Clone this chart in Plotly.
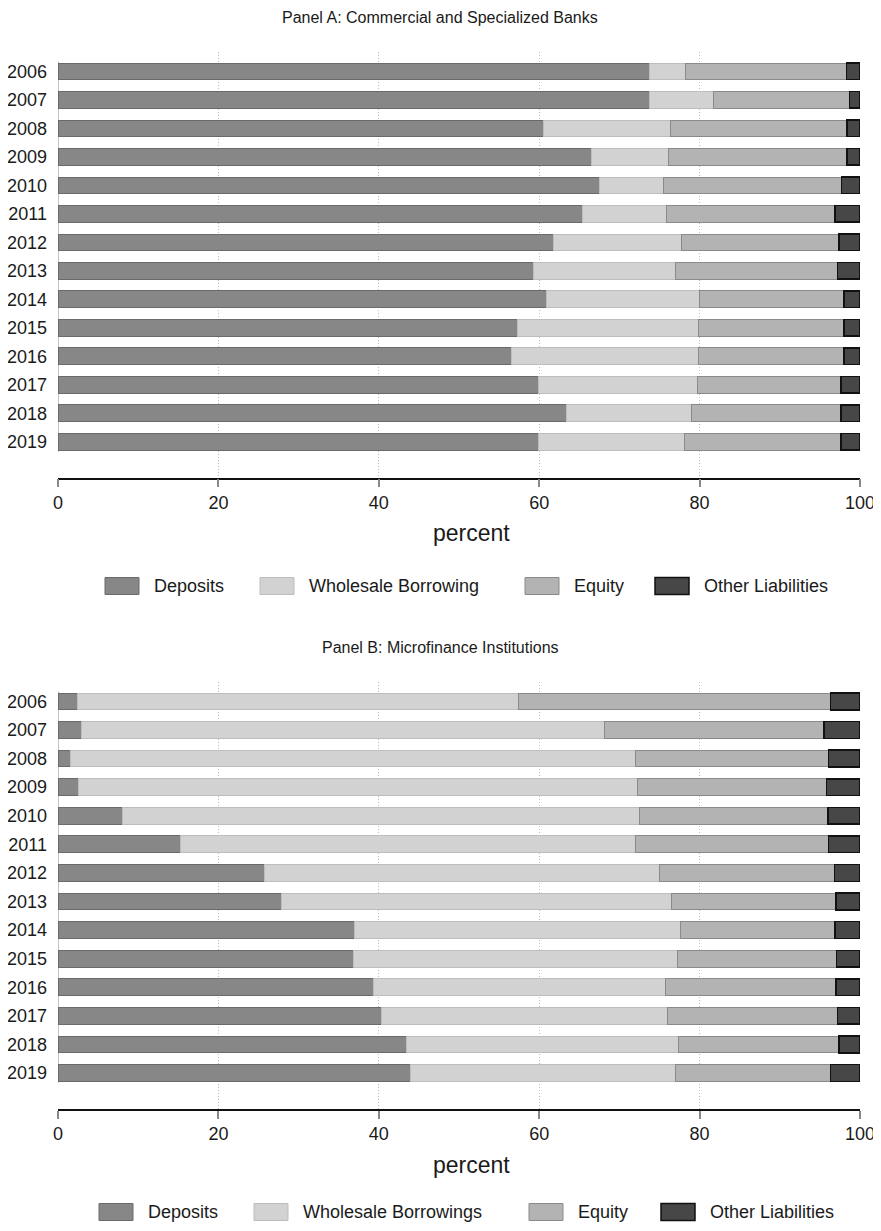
import plotly.graph_objects as go

# page body keeps its default 8px margin, so the figure is laid out inside it
PAGE_W, PAGE_H = 881, 1231
OFF = 8
W, H = PAGE_W - OFF, PAGE_H - 2 * OFF

years = ["2006", "2007", "2008", "2009", "2010", "2011", "2012",
         "2013", "2014", "2015", "2016", "2017", "2018", "2019"]

# Panel A: commercial and specialized banks (percent of liabilities)
bank_deposits = [73.7, 73.8, 60.5, 66.5, 67.5, 65.4, 61.8, 59.3, 60.9, 57.3, 56.5, 59.9, 63.4, 59.9]
bank_wholesale = [4.5, 7.9, 15.9, 9.6, 8.0, 10.5, 16.0, 17.7, 19.1, 22.6, 23.3, 19.8, 15.6, 18.2]
bank_equity = [20.1, 17.0, 22.0, 22.3, 22.2, 21.0, 19.6, 20.2, 18.0, 18.1, 18.2, 17.9, 18.6, 19.5]
bank_other = [1.7, 1.3, 1.6, 1.6, 2.3, 3.1, 2.6, 2.8, 2.0, 2.0, 2.0, 2.4, 2.4, 2.4]

# Panel B: microfinance institutions
mfi_deposits = [2.4, 2.9, 1.5, 2.6, 8.0, 15.3, 25.8, 27.9, 37.0, 36.9, 39.3, 40.3, 43.5, 44.0]
mfi_wholesale = [55.0, 65.3, 70.5, 69.7, 64.5, 56.7, 49.2, 48.6, 40.6, 40.4, 36.5, 35.7, 33.9, 33.0]
mfi_equity = [38.9, 27.3, 24.1, 23.5, 23.5, 24.1, 21.8, 20.5, 19.3, 19.8, 21.2, 21.2, 20.0, 19.3]
mfi_other = [3.7, 4.5, 3.9, 4.2, 4.0, 3.9, 3.2, 3.0, 3.1, 2.9, 3.0, 2.8, 2.6, 3.7]

legend_a = ["Deposits", "Wholesale Borrowing", "Equity", "Other Liabilities"]
legend_b = ["Deposits", "Wholesale Borrowings", "Equity", "Other Liabilities"]

x_ticks = [0, 20, 40, 60, 80, 100]

fills = ["#878787", "#d2d2d2", "#b3b3b3", "#474747"]
edges = ["#6a6a6a", "#bdbdbd", "#8a8a8a", "#111111"]
edge_w = [1, 1, 1, 1.5]

FONT = "Liberation Sans, Arial, Helvetica, sans-serif"
INK = "#1a1a1a"


def px(x):
    # page pixel -> paper fraction
    return (x - OFF) / W


def py(y):
    return 1 - (y - OFF) / H


fig = go.Figure()

panels = [
    ("x", "y", [bank_deposits, bank_wholesale, bank_equity, bank_other], legend_a),
    ("x2", "y2", [mfi_deposits, mfi_wholesale, mfi_equity, mfi_other], legend_b),
]
for xa, ya, series, names in panels:
    for i, vals in enumerate(series):
        fig.add_trace(go.Bar(
            x=vals, y=years, orientation="h",
            xaxis=xa, yaxis=ya,
            name=names[i],
            width=0.585,
            marker=dict(color=fills[i], line=dict(color=edges[i], width=edge_w[i])),
            showlegend=False,
        ))

x_common = dict(
    range=[0, 100], tickvals=x_ticks,
    showgrid=True, gridcolor="#bdbdbd", griddash="1px,2px", gridwidth=1,
    showline=True, linecolor="#111111", linewidth=1.5,
    ticks="outside", ticklen=8, tickcolor="#888888", tickwidth=1.5,
    tickfont=dict(family=FONT, size=18, color=INK),
    ticklabeloverflow="allow",
    zeroline=False, fixedrange=True, automargin=False,
)
y_common = dict(
    type="category", categoryorder="array", categoryarray=years,
    range=[14.26, -0.68],
    showgrid=False, showline=False, zeroline=False,
    ticks="", ticklabelstandoff=10,
    tickfont=dict(family=FONT, size=18, color=INK),
    fixedrange=True, automargin=False,
)

xd = [px(58), px(860)]
fig.update_layout(
    width=W, height=H, autosize=False,
    margin=dict(l=0, r=0, t=0, b=0, pad=0),
    paper_bgcolor="white", plot_bgcolor="white",
    barmode="stack",
    xaxis=dict(domain=xd, anchor="y", **x_common),
    yaxis=dict(domain=[py(477.7), py(52)], anchor="x", **y_common),
    xaxis2=dict(domain=xd, anchor="y2", **x_common),
    yaxis2=dict(domain=[py(1109), py(682)], anchor="x2", **y_common),
)

shapes = []
annotations = []

# thin category-axis line alongside the bars
for xr, yr in [("x", "y"), ("x2", "y2")]:
    shapes.append(dict(type="line", xref=xr, yref=yr, x0=0, x1=0, y0=-0.35, y1=13.35,
                       line=dict(color="#b0b0b0", width=1.5), layer="below"))

titles = [("Panel A: Commercial and Specialized Banks", 17),
          ("Panel B: Microfinance Institutions", 647)]
for text, yc in titles:
    annotations.append(dict(text=text, x=px(440), y=py(yc), xref="paper", yref="paper",
                            xanchor="center", yanchor="middle", showarrow=False,
                            font=dict(family=FONT, size=16, color=INK)))

for yc in [533, 1165]:
    annotations.append(dict(text="percent", x=px(471), y=py(yc), xref="paper", yref="paper",
                            xanchor="center", yanchor="middle", showarrow=False,
                            font=dict(family=FONT, size=23, color=INK)))

# hand-built legends (wide rectangular keys as in the original)
legend_rows = [
    (legend_a, 586, [105, 260, 525, 655]),
    (legend_b, 1212, [99, 254, 529, 661]),
]
for names, yc, lefts in legend_rows:
    for i, name in enumerate(names):
        x0 = lefts[i]
        shapes.append(dict(type="rect", xref="paper", yref="paper",
                           x0=px(x0), x1=px(x0 + 34), y0=py(yc + 8.5), y1=py(yc - 8.5),
                           fillcolor=fills[i], line=dict(color=edges[i], width=edge_w[i])))
        annotations.append(dict(text=name, x=px(x0 + 47), y=py(yc), xref="paper", yref="paper",
                                xanchor="left", yanchor="middle", showarrow=False,
                                font=dict(family=FONT, size=18, color=INK)))

fig.update_layout(shapes=shapes, annotations=annotations)

fig.write_html("out.html")
